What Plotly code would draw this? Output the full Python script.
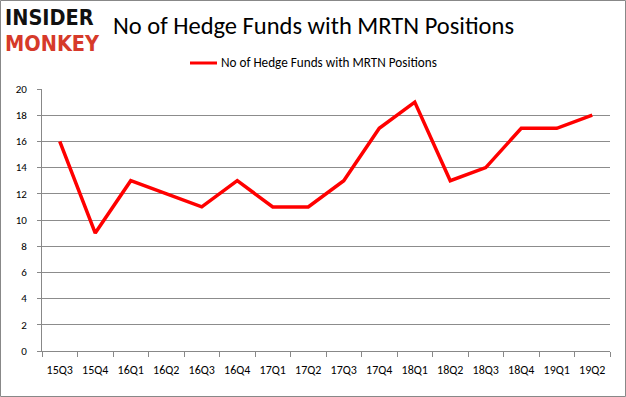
import plotly.graph_objects as go

quarters = ["15Q3","15Q4","16Q1","16Q2","16Q3","16Q4","17Q1","17Q2","17Q3","17Q4","18Q1","18Q2","18Q3","18Q4","19Q1","19Q2"]
funds = [16, 9, 13, 12, 11, 13, 11, 11, 13, 17, 19, 13, 14, 17, 17, 18]
series_name = "No of Hedge Funds with MRTN Positions"

W, H = 626, 397
ml, mr, mt, mb = 42, 16, 89, 46
pw, ph = W - ml - mr, H - mt - mb

fig = go.Figure()
fig.add_trace(go.Scatter(x=quarters, y=funds, mode="lines", name=series_name,
                         line=dict(color="#ff0000", width=3.5), showlegend=False))

font = "Carlito, Calibri, Lato, sans-serif"
logo_font = "'DejaVu Sans Condensed', 'DejaVu Sans', sans-serif"

def px2paper_x(px):
    return (px - ml) / pw

def px2paper_y(py):
    return 1 - (py - mt) / ph

fig.update_layout(
    width=W, height=H,
    margin=dict(l=ml, r=mr, t=mt, b=mb, autoexpand=False),
    paper_bgcolor="white", plot_bgcolor="white",
    font=dict(family=font, size=11, color="#000"),
    xaxis=dict(type="category", tickson="boundaries", ticks="outside", ticklen=5,
               tickcolor="#888", showline=True, linecolor="#888", showgrid=False,
               range=[-0.5, len(quarters) - 0.5],
               tickfont=dict(size=12), ticklabelstandoff=8),
    yaxis=dict(range=[0, 20], dtick=2, ticks="outside", ticklen=4, tickcolor="#888",
               showline=True, linecolor="#888", showgrid=True, gridcolor="#8c8c8c",
               gridwidth=1, zeroline=False, tickfont=dict(size=11), ticklabelstandoff=8),
    shapes=[
        dict(type="rect", xref="paper", yref="paper",
             x0=px2paper_x(0.5), x1=px2paper_x(W - 0.5), y0=px2paper_y(H - 0.5), y1=px2paper_y(0.5),
             line=dict(color="#888", width=1), fillcolor="rgba(0,0,0,0)", layer="below"),
        dict(type="line", xref="paper", yref="paper",
             x0=px2paper_x(190), x1=px2paper_x(217), y0=px2paper_y(63), y1=px2paper_y(63),
             line=dict(color="#ff0000", width=3)),
    ],
    annotations=[
        dict(text="No of Hedge Funds with MRTN Positions", xref="paper", yref="paper",
             x=px2paper_x(111), y=px2paper_y(26), xanchor="left", yanchor="middle",
             showarrow=False, font=dict(size=24.5, family=font, color="#000")),
        dict(text=series_name, xref="paper", yref="paper",
             x=px2paper_x(219), y=px2paper_y(63), xanchor="left", yanchor="middle",
             showarrow=False, font=dict(size=13.2, family=font, color="#000")),
        dict(text="<b>INSIDER</b>", xref="paper", yref="paper",
             x=px2paper_x(3), y=px2paper_y(18), xanchor="left", yanchor="middle",
             showarrow=False, font=dict(size=21.5, family=logo_font, color="#111")),
        dict(text="<b>MONKEY</b>", xref="paper", yref="paper",
             x=px2paper_x(3), y=px2paper_y(43), xanchor="left", yanchor="middle",
             showarrow=False, font=dict(size=21.5, family=logo_font, color="#d63a2a")),
    ],
)

fig.write_html("out.html", config={"displayModeBar": False},
               post_script="document.body.style.margin='0';")
